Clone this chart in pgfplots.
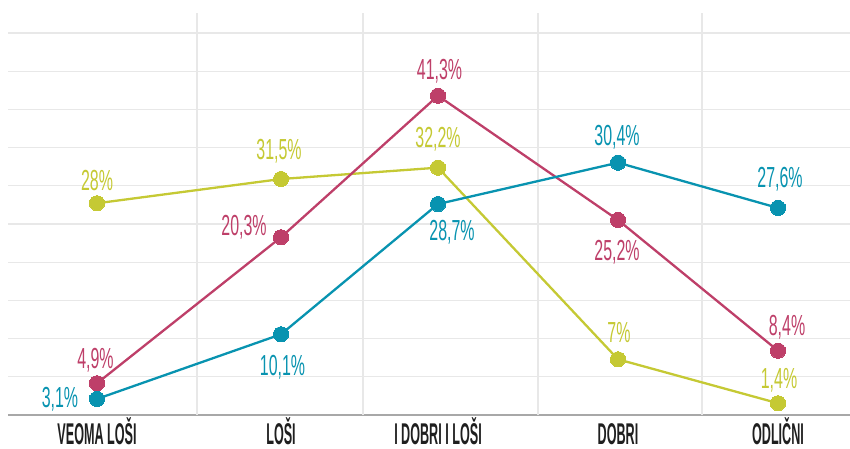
\documentclass[border=0pt]{standalone}
\usepackage{fontspec}
\setmainfont{Liberation Sans}
\newfontfamily\numfont{Liberation Sans}[FakeStretch=0.55]
\newfontfamily\catfont{Liberation Sans}[FakeStretch=0.42, UprightFont=*-Bold]
\usepackage{pgfplots}
\pgfplotsset{compat=1.18}
\definecolor{yel}{HTML}{C5C934}
\definecolor{pnk}{HTML}{BE3F69}
\definecolor{tl}{HTML}{0893B0}
\definecolor{gridc}{HTML}{E8E8E8}
\definecolor{basec}{HTML}{A8A8A8}
\begin{document}
\begin{tikzpicture}[x=1pt,y=1pt]
\begin{axis}[
  at={(8pt,34pt)}, anchor=south west,
  scale only axis, width=842pt, height=402pt,
  xmin=8, xmax=850, ymin=0, ymax=42.094,
  axis x line=bottom, axis y line=left,
  x axis line style={-, draw=basec, line width=2.2pt},
  y axis line style={draw=none},
  xtick={97,281,438,618,778},
  xticklabels={VEOMA LOŠI, LOŠI, I DOBRI I LOŠI, DOBRI, ODLIČNI},
  xticklabel style={font=\catfont\fontsize{30}{32}\selectfont, anchor=base, yshift=-30pt, text=black!88, inner sep=0pt},
  extra x ticks={197,363,538,702},
  extra x tick labels={},
  extra x tick style={grid=major},
  ytick={4,8,...,40}, yticklabels={},
  ymajorgrids,
  grid style={draw=gridc, line width=1.1pt},
  major tick length=0pt,
  clip=false,
  point meta=explicit symbolic,
  nodes near coords={\numfont\fontsize{29}{30}\selectfont\pgfplotspointmeta\%},
  visualization depends on={\thisrow{dx} \as \dx},
  visualization depends on={\thisrow{dy} \as \dy},
  every node near coord/.append style={anchor=base, xshift=\dx pt, yshift=\dy pt, inner sep=0pt},
  every axis plot/.append style={line width=2.3pt, mark=*, mark size=7.6pt, mark options={solid, line width=0pt}},
]
% yellow series
\addplot[color=yel, nodes near coords style={text=yel}] table[x=x, y=y, meta=lab] {
x    y      lab   dx   dy
97   22.17  28    0    13
281  24.71  31,5  -2   19.5
438  25.90  32,2  0    20
618  5.83   7     1    17
778  1.23   1,4   1    15
};
% pink series
\addplot[color=pnk, nodes near coords style={text=pnk}] table[x=x, y=y, meta=lab] {
x    y      lab   dx    dy
97   3.32   4,9   -1.5  15
281  18.61  20,3  -37   2
438  33.43  41,3  1.5   16
618  20.42  25,2  -1    -40.5
778  6.73   8,4   9     15
};
% teal series
\addplot[color=tl, nodes near coords style={text=tl}] table[x=x, y=y, meta=lab] {
x    y      lab   dx    dy
97   1.68   3,1   -37   -9
281  8.45   10,1  1.5   -41
438  22.09  28,7  14    -36
618  26.42  30,4  -1    17
778  21.68  27,6  2     20.5
};
\end{axis}
\pgfresetboundingbox
\path[use as bounding box] (0,0) rectangle (850pt,449pt);
\end{tikzpicture}
\end{document}
